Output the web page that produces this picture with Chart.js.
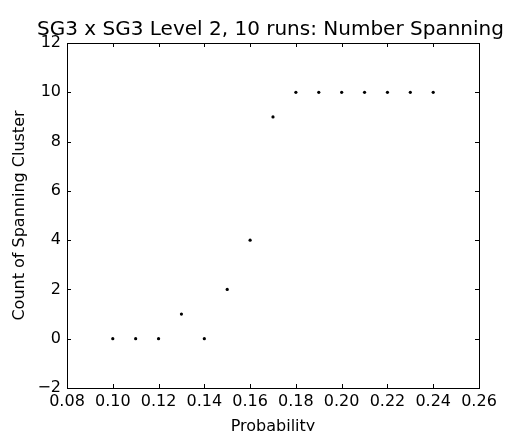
<!DOCTYPE html>
<html><head><meta charset="utf-8">
<script src="https://cdn.jsdelivr.net/npm/chart.js@4.4.0/dist/chart.umd.min.js"></script>
<style>html,body{margin:0;padding:0;background:#fff;}#wrap{width:532px;height:431px;}</style>
</head><body><div id="wrap"><canvas id="c" width="532" height="431"></canvas></div>
<script>
const probability = [0.10,0.11,0.12,0.13,0.14,0.15,0.16,0.17,0.18,0.19,0.20,0.21,0.22,0.23,0.24];
const spanningCount = [0,0,0,1,0,2,4,9,10,10,10,10,10,10,10];
const xTicks = [0.08,0.10,0.12,0.14,0.16,0.18,0.20,0.22,0.24,0.26];
const yTicks = [-2,0,2,4,6,8,10,12];
const titleText = 'SG3 x SG3 Level 2, 10 runs: Number Spanning';
const xLabel = 'Probability';
const yLabel = 'Count of Spanning Cluster';

const FONT = "'DejaVu Sans', sans-serif";
const frame = {
  id: 'frame',
  afterDraw(chart) {
    const {ctx, chartArea: a, scales: {x, y}} = chart;
    ctx.save();
    ctx.strokeStyle = '#000';
    ctx.lineWidth = 1;
    ctx.strokeRect(Math.round(a.left)+0.5, Math.round(a.top)+0.5, Math.round(a.right-a.left), Math.round(a.bottom-a.top));
    const L = 4;
    ctx.beginPath();
    x.ticks.forEach(t => {
      const px = Math.round(x.getPixelForValue(t.value)) + 0.5;
      ctx.moveTo(px, a.bottom); ctx.lineTo(px, a.bottom - L);
      ctx.moveTo(px, a.top); ctx.lineTo(px, a.top + L);
    });
    y.ticks.forEach(t => {
      const py = Math.round(y.getPixelForValue(t.value)) + 0.5;
      ctx.moveTo(a.left, py); ctx.lineTo(a.left + L, py);
      ctx.moveTo(a.right, py); ctx.lineTo(a.right - L, py);
    });
    ctx.stroke();
    ctx.restore();
  }
};

new Chart(document.getElementById('c'), {
  type: 'scatter',
  data: { datasets: [{
    data: probability.map((p,i) => ({x: p, y: spanningCount[i]})),
    backgroundColor: '#000', borderColor: '#000', pointRadius: 1.6, pointBorderWidth: 0
  }]},
  options: {
    responsive: false, animation: false,
    layout: { padding: { left: 9, right: 0, top: 0, bottom: 0 } },
    plugins: {
      legend: { display: false }, tooltip: { enabled: false },
      title: { display: true, text: titleText, color: '#000', font: { family: FONT, size: 20, weight: 'normal' }, padding: { top: 18, bottom: 1 } }
    },
    scales: {
      x: {
        type: 'linear', min: 0.08, max: 0.26,
        afterBuildTicks: s => { s.ticks = xTicks.map(v => ({value: v})); },
        afterFit: s => { s.height = 43; },
        grid: { display: false, drawTicks: false },
        border: { display: false },
        ticks: { color: '#000', font: { family: FONT, size: 16 }, padding: 4, maxRotation: 0, autoSkip: false, callback: v => v.toFixed(2) },
        title: { display: true, text: xLabel, color: '#000', font: { family: FONT, size: 16 }, padding: { top: 4, bottom: -5 } }
      },
      y: {
        type: 'linear', min: -2, max: 12,
        afterBuildTicks: s => { s.ticks = yTicks.map(v => ({value: v})); },
        afterFit: s => { s.width = 58; },
        grid: { display: false, drawTicks: false },
        border: { display: false },
        ticks: { color: '#000', font: { family: FONT, size: 16 }, padding: 6, autoSkip: false, callback: v => String(v).replace('-', '\u2212') },
        title: { display: true, text: yLabel, color: '#000', font: { family: FONT, size: 16 }, padding: { top: 1, bottom: 0 } }
      },
      yRight: {
        type: 'linear', position: 'right', min: -2, max: 12,
        afterFit: s => { s.width = 53; },
        grid: { display: false, drawTicks: false },
        border: { display: false },
        ticks: { display: false }
      }
    }
  },
  plugins: [frame]
});
</script></body></html>
